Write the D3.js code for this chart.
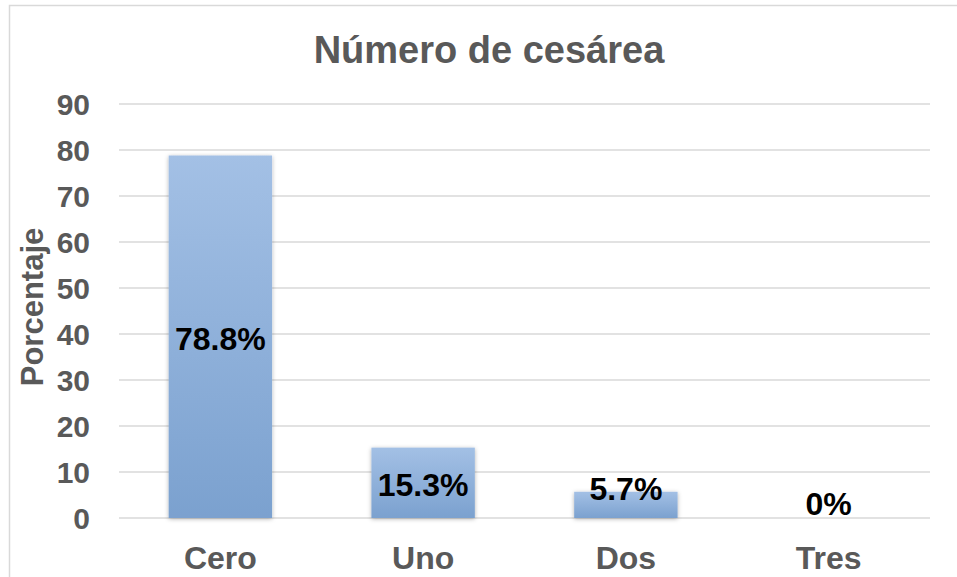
<!DOCTYPE html>
<html>
<head>
<meta charset="utf-8">
<script src="https://cdn.jsdelivr.net/npm/d3@7"></script>
<style>
  body { margin: 0; background: #fff; }
  text { font-family: "Liberation Sans", Arial, sans-serif; font-weight: bold; }
</style>
</head>
<body>
<svg width="957" height="577"></svg>
<script>
var categories = ['Cero', 'Uno', 'Dos', 'Tres']
var values = [78.8, 15.3, 5.7, 0]
var labels = ['78.8%', '15.3%', '5.7%', '0%']
var yTicks = [0, 10, 20, 30, 40, 50, 60, 70, 80, 90]

var svg = d3.select('svg')
var margin = { left: 119, right: 27, top: 104, bottom: 59 }
var width = 957 - margin.left - margin.right
var height = 577 - margin.top - margin.bottom

// chart frame (left and top edge show in the picture)
svg.append('path')
  .attr('d', 'M9.5,600 V5.5 H960')
  .attr('fill', 'none')
  .attr('stroke', '#d9d9d9')
  .attr('stroke-width', 1.5)

var defs = svg.append('defs')
var grad = defs.append('linearGradient')
  .attr('id', 'barGrad')
  .attr('x1', 0).attr('y1', 0).attr('x2', 0).attr('y2', 1)
grad.append('stop').attr('offset', '0%').attr('stop-color', '#a3c0e5')
grad.append('stop').attr('offset', '100%').attr('stop-color', '#7ba1cf')

var shadow = defs.append('filter')
  .attr('id', 'shadow')
  .attr('x', '-20%').attr('y', '-20%').attr('width', '140%').attr('height', '140%')
shadow.append('feDropShadow')
  .attr('dx', 0).attr('dy', 1).attr('stdDeviation', 2)
  .attr('flood-color', '#000').attr('flood-opacity', 0.3)

var g = svg.append('g').attr('transform', 'translate(' + margin.left + ',' + margin.top + ')')

var x = d3.scaleBand().domain(categories).range([0, width]).paddingInner(0.49).paddingOuter(0.245)
var y = d3.scaleLinear().domain([0, 90]).range([height, 0])

// gridlines
g.selectAll('.grid')
  .data(yTicks)
  .enter().append('line')
  .attr('x1', 0).attr('x2', width)
  .attr('y1', function (d) { return y(d) }).attr('y2', function (d) { return y(d) })
  .attr('stroke', '#d9d9d9')
  .attr('stroke-width', 1.5)

// y axis labels
var yAxis = d3.axisLeft(y).tickValues(yTicks).tickSize(0).tickPadding(29)
var ya = g.append('g').call(yAxis)
ya.select('.domain').remove()
ya.selectAll('text')
  .attr('fill', '#595959')
  .style('font-size', '30px')
  .attr('dy', '0.36em')

// bars
g.selectAll('.bar')
  .data(values)
  .enter().append('rect')
  .attr('x', function (d, i) { return x(categories[i]) })
  .attr('y', function (d) { return y(d) })
  .attr('width', x.bandwidth())
  .attr('height', function (d) { return height - y(d) })
  .attr('fill', 'url(#barGrad)')
  .attr('filter', 'url(#shadow)')

// data labels
g.selectAll('.lbl')
  .data(values)
  .enter().append('text')
  .attr('x', function (d, i) { return x(categories[i]) + x.bandwidth() / 2 })
  .attr('y', function (d) {
    var top = y(d)
    var mid = (top + height) / 2
    var cy = (height - top) > 34 ? mid + 2 : Math.min(top - 3, height - 15)
    return cy
  })
  .attr('dy', '0.36em')
  .attr('text-anchor', 'middle')
  .attr('fill', '#000')
  .style('font-size', '32px')
  .text(function (d, i) { return labels[i] })

// x axis labels
var xAxis = d3.axisBottom(x).tickSize(0).tickPadding(28)
var xa = g.append('g').attr('transform', 'translate(0,' + height + ')').call(xAxis)
xa.select('.domain').remove()
xa.selectAll('text')
  .attr('fill', '#595959')
  .style('font-size', '32px')

// title
svg.append('text')
  .attr('x', 489).attr('y', 63)
  .attr('text-anchor', 'middle')
  .attr('fill', '#595959')
  .style('font-size', '38px')
  .text('Número de cesárea')

// y axis title
svg.append('text')
  .attr('transform', 'translate(43,' + (margin.top + height / 2 - 4) + ') rotate(-90)')
  .attr('text-anchor', 'middle')
  .attr('fill', '#595959')
  .style('font-size', '31px')
  .text('Porcentaje')
</script>
</body>
</html>
